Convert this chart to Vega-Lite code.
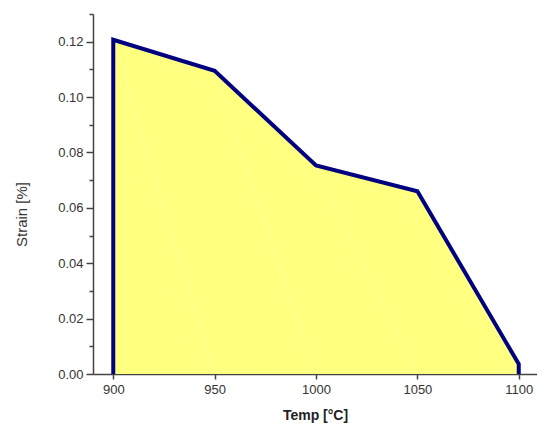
{
  "$schema": "https://vega.github.io/schema/vega-lite/v6.json",
  "width": 444,
  "height": 360,
  "autosize": "none",
  "padding": {"left": 93, "top": 14, "right": 0, "bottom": 53},
  "background": "white",
  "config": {
    "view": {"stroke": null},
    "axis": {"grid": false, "domainColor": "#444", "tickColor": "#444", "labelColor": "#333", "titleColor": "#333", "labelFont": "Liberation Sans", "titleFont": "Liberation Sans", "labelFontSize": 13, "domainWidth": 1.5, "tickWidth": 1.5}
  },
  "data": {
    "values": [
      {"seq": 0, "temp": 900, "strain": 0},
      {"seq": 1, "temp": 900, "strain": 0.1207},
      {"seq": 2, "temp": 950, "strain": 0.1095},
      {"seq": 3, "temp": 1000, "strain": 0.0753},
      {"seq": 4, "temp": 1050, "strain": 0.0660},
      {"seq": 5, "temp": 1100, "strain": 0.0036},
      {"seq": 6, "temp": 1100, "strain": 0}
    ]
  },
  "resolve": {"axis": {"x": "independent", "y": "independent"}},
  "layer": [
    {
      "transform": [{"filter": "datum.seq >= 1 && datum.seq <= 5"}],
      "mark": {"type": "area", "color": "#FFFF80", "opacity": 1},
      "encoding": {
        "x": {"field": "temp", "type": "quantitative", "scale": {"domain": [890, 1109], "nice": false, "zero": false},
          "axis": {"values": [900, 950, 1000, 1050, 1100], "format": "d", "title": "Temp [°C]", "titleFontSize": 14, "titleFontWeight": "bold", "titleColor": "#222", "tickSize": 5, "labelPadding": 4, "titlePadding": 12}},
        "y": {"field": "strain", "type": "quantitative", "scale": {"domain": [0, 0.13], "nice": false},
          "axis": {"values": [0, 0.02, 0.04, 0.06, 0.08, 0.1, 0.12], "format": ".2f", "title": "Strain [%]", "titleFontSize": 15, "titleFontWeight": "normal", "titleY": 200, "tickSize": 7, "labelPadding": 3, "titlePadding": 28}},
        "order": {"field": "seq", "type": "quantitative"}
      }
    },
    {
      "mark": {"type": "line", "color": "#000080", "strokeWidth": 4, "strokeJoin": "miter"},
      "encoding": {
        "x": {"field": "temp", "type": "quantitative",
          "axis": {"orient": "bottom", "values": [925, 975, 1025, 1075], "labels": false, "domain": false, "tickSize": -4, "title": null}},
        "y": {"field": "strain", "type": "quantitative",
          "axis": {"orient": "left", "values": [0.01, 0.03, 0.05, 0.07, 0.09, 0.11, 0.13], "labels": false, "domain": false, "tickSize": 4, "title": null}},
        "order": {"field": "seq", "type": "quantitative"}
      }
    }
  ]
}
